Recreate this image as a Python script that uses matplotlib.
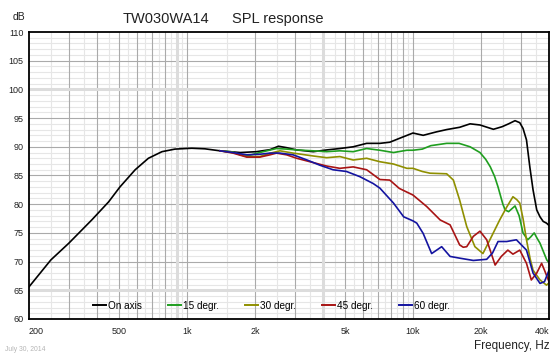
import numpy as np
import matplotlib
matplotlib.use('Agg')
import matplotlib.pyplot as plt

plt.rcParams['font.family'] = ['Liberation Sans', 'DejaVu Sans']

# on axis
f_on = [200, 250, 300, 380, 450, 505, 590, 675, 775, 885, 1050, 1200, 1400, 1720, 2030,
        2330, 2540, 2760, 3060, 3620, 4150, 4750, 5440, 6240, 7140, 7900, 8750, 10000,
        11100, 12700, 14100, 16100, 17900, 19800, 22700, 24800, 26500, 28300, 29700,
        30700, 31800, 32900, 34000, 35300, 36500, 37700, 39000, 40000]
on_axis = [65.6, 70.3, 73.2, 77.3, 80.4, 83.0, 86.0, 88.0, 89.15, 89.6, 89.75, 89.65, 89.3,
           89.0, 89.15, 89.5, 90.1, 89.85, 89.45, 89.15, 89.45, 89.7, 90.0, 90.6, 90.6, 90.8,
           91.5, 92.4, 92.0, 92.6, 93.0, 93.4, 94.0, 93.8, 93.05, 93.5, 94.0, 94.55, 94.2,
           93.2, 91.2, 86.5, 82.5, 79.0, 77.8, 77.0, 76.7, 76.3]

f_15 = [1400, 1600, 1720, 1840, 2100, 2490, 2760, 3060, 3620, 4150, 4750, 5440, 6240, 7140,
        8200, 9400, 10000, 11000, 12000, 14100, 16000, 17900, 19800, 21000, 22000, 23000,
        23800, 25000, 25600, 26500, 28300, 29500, 30700, 32200, 33200, 34400, 35500, 36500,
        38000, 39100, 40000]
deg15 = [89.3, 89.1, 88.6, 88.4, 89.0, 89.7, 89.6, 89.45, 89.3, 89.15, 89.3, 89.15, 89.7,
         89.4, 89.0, 89.4, 89.4, 89.6, 90.2, 90.6, 90.6, 90.0, 89.0, 87.8, 86.5, 84.8, 83.0,
         80.0, 79.0, 78.7, 79.7, 78.0, 75.0, 73.8, 74.3, 75.0, 74.0, 73.2, 71.5, 70.3, 69.8]

f_30 = [1400, 1600, 1840, 2100, 2400, 2580, 2950, 3620, 4150, 4750, 5440, 6240, 7140, 8200,
        9400, 10000, 11000, 11900, 14100, 15100, 16100, 17300, 18800, 20400, 21900, 24200,
        26000, 27700, 28800, 29700, 30700, 31800, 33000, 34000, 36500, 39000, 40000]
deg30 = [89.3, 89.0, 88.3, 88.3, 89.0, 89.3, 88.9, 88.4, 88.1, 88.3, 87.7, 88.0, 87.4, 87.0,
         86.25, 86.25, 85.7, 85.4, 85.3, 84.2, 80.7, 76.1, 72.6, 71.4, 73.8, 77.25, 79.5,
         81.3, 80.8, 80.2, 77.5, 73.8, 70.5, 68.5, 66.8, 65.9, 66.3]

f_45 = [1400, 1600, 1840, 2100, 2330, 2490, 2760, 3060, 3620, 4150, 4750, 5440, 6240, 7140,
        7900, 8700, 10000, 11500, 13200, 14600, 16100, 16700, 17300, 18500, 19800, 21200,
        23100, 24600, 26300, 27700, 29700, 31800, 33400, 35300, 37100, 38200, 40000]
deg45 = [89.3, 88.9, 88.2, 88.2, 88.6, 88.9, 88.6, 88.0, 87.25, 86.65, 86.25, 86.5, 86.0,
         84.3, 84.2, 82.75, 81.6, 79.6, 77.25, 76.4, 72.9, 72.5, 72.6, 74.4, 75.3, 73.8, 69.4,
         70.9, 72.0, 71.3, 72.0, 69.7, 66.8, 68.0, 69.7, 68.5, 66.5]

f_60 = [1400, 1600, 1840, 2100, 2330, 2580, 2950, 3400, 3870, 4430, 5080, 5820, 6670, 7140,
        8200, 9100, 10000, 10400, 11100, 12100, 13400, 14600, 16100, 18500, 21200, 22500,
        23800, 26000, 28700, 31800, 34000, 36500, 38200, 40000]
deg60 = [89.3, 89.0, 88.6, 88.7, 88.9, 88.9, 88.6, 87.7, 86.8, 86.0, 85.7, 84.8, 83.6, 82.8,
         80.2, 77.8, 77.1, 76.7, 74.9, 71.4, 72.6, 70.9, 70.6, 70.2, 70.4, 71.5, 73.5, 73.5,
         73.8, 72.0, 68.0, 66.2, 66.5, 68.5]

series = [(f_on, on_axis, 'On axis', '#000000'),
          (f_15, deg15, '15 degr.', '#1f9e1f'),
          (f_30, deg30, '30 degr.', '#8f8f00'),
          (f_45, deg45, '45 degr.', '#a81414'),
          (f_60, deg60, '60 degr.', '#1414a0')]

xlabels = ['200', '500', '1k', '2k', '5k', '10k', '20k', '40k']
xticks = [200, 500, 1000, 2000, 5000, 10000, 20000, 40000]

fig = plt.figure(figsize=(5.6, 3.56), dpi=100)
ax = fig.add_axes([29 / 560, 1 - 319 / 356, 520 / 560, 287 / 356])
ax.set_xscale('log')
ax.set_xlim(200, 40000)
ax.set_ylim(60, 110)

# grid
for dec in [100, 1000, 10000]:
    for m in range(1, 10):
        for v, c in [(m * dec, '#aaaaaa'), ((m + 0.5) * dec, '#e6e6e6')]:
            if 200 < v < 40000:
                ax.axvline(v, color=c, lw=0.8, zorder=1 if c == '#aaaaaa' else 0.5)
for v in range(61, 110):
    ax.axhline(v, color='#aaaaaa' if v % 5 == 0 else '#e6e6e6', lw=0.8,
               zorder=1 if v % 5 == 0 else 0.5)
for v in [900, 4000]:
    ax.axvline(v, color='#dcdcdc', lw=2.2, zorder=1.2)
for v in [65, 100]:
    ax.axhline(v, color='#dcdcdc', lw=2.2, zorder=1.2)

for f, y, lab, c in series:
    ax.plot(f, y, color=c, lw=1.2, label=lab, zorder=3)

ax.set_xticks(xticks)
ax.set_xticklabels(xlabels)
ax.minorticks_off()
ax.set_yticks(range(60, 111, 5))
ax.tick_params(length=0, labelsize=6.5, colors='#222222')
ax.tick_params(axis='x', pad=6)
ax.tick_params(axis='y', pad=4)
tl = ax.get_xticklabels()
tl[0].set_horizontalalignment('left')
tl[-1].set_horizontalalignment('right')
for s in ax.spines.values():
    s.set_linewidth(1.3)
    s.set_zorder(4)

leg = ax.legend(loc='center left', bbox_to_anchor=(64 / 520, 13.3 / 287), ncol=5,
                frameon=False, fontsize=7.2, handlelength=1.3, handletextpad=0.25,
                columnspacing=2.55, borderpad=0, borderaxespad=0)
for h in leg.get_lines():
    h.set_linewidth(1.4)

fig.text(123 / 560, 1 - 22.7 / 356, 'TW030WA14', fontsize=10.5, va='baseline', color='#222222')
fig.text(232 / 560, 1 - 22.7 / 356, 'SPL response', fontsize=10.5, va='baseline', color='#222222')
fig.text(13 / 560, 1 - 20 / 356, 'dB', fontsize=7.5, va='baseline', color='#222222')
fig.text(550 / 560, 1 - 349 / 356, 'Frequency, Hz', fontsize=8.5, va='baseline', ha='right',
         color='#222222')
fig.text(5 / 560, 1 - 351 / 356, 'July 30, 2014', fontsize=4.9, va='baseline', color='#b5b5b5')

fig.savefig('out.png', dpi=100)
